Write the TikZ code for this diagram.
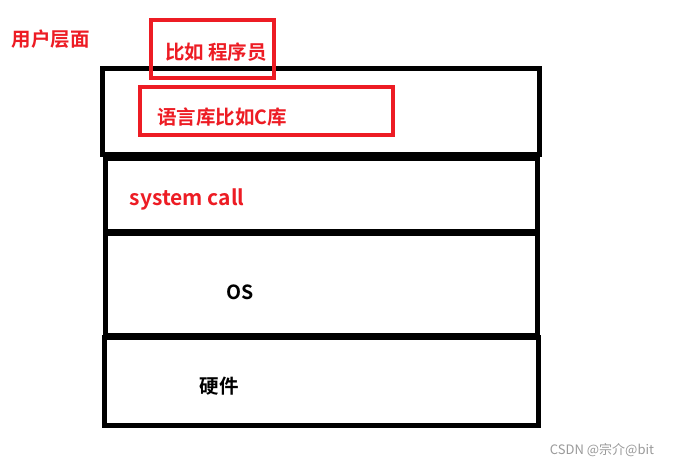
\documentclass[tikz,border=0pt]{standalone}
\usepackage{fontspec}
\newfontfamily\cjk{Noto Sans CJK SC}[BoldFont={Noto Sans CJK SC Bold}]
\definecolor{pred}{HTML}{ED1C24}
\definecolor{wm}{HTML}{9A9A9A}
\begin{document}
\begin{tikzpicture}[x=1pt,y=-1pt,
  layer/.style={draw=black,line width=5pt},
  redbox/.style={draw=pred,line width=4pt},
  redtxt/.style={text=pred,font=\cjk\bfseries\fontsize{19.5}{19.5}\selectfont,inner sep=0pt},
  blktxt/.style={text=black,font=\cjk\bfseries\fontsize{19.5}{19.5}\selectfont,inner sep=0pt}]
\useasboundingbox[fill=white] (0,0) rectangle (678,468);
\draw[layer] (102,69) rectangle (539,155);
\draw[layer] (105,159) rectangle (537,232);
\draw[layer] (105,234) rectangle (537,335);
\draw[layer] (104,337) rectangle (538,425);
\draw[redbox] (151,20) rectangle (274,78);
\draw[redbox] (140,87) rectangle (393,135);
\node[redtxt] (user) at (51,39) {用户层面};
\node[redtxt] (prog) at (216,52) {比如 程序员};
\node[redtxt] (clib) at (222,117) {语言库比如C库};
\node[redtxt,font=\cjk\bfseries\fontsize{21}{21}\selectfont] (sys) at (187,199) {system call};
\node[blktxt] (os) at (240,292) {OS};
\node[blktxt] (hw) at (219,386) {硬件};
\node[text=wm,font=\cjk\fontsize{13}{13}\selectfont,inner sep=0pt] (wmk) at (602,450) {CSDN @宗介@bit};
\end{tikzpicture}
\end{document}
